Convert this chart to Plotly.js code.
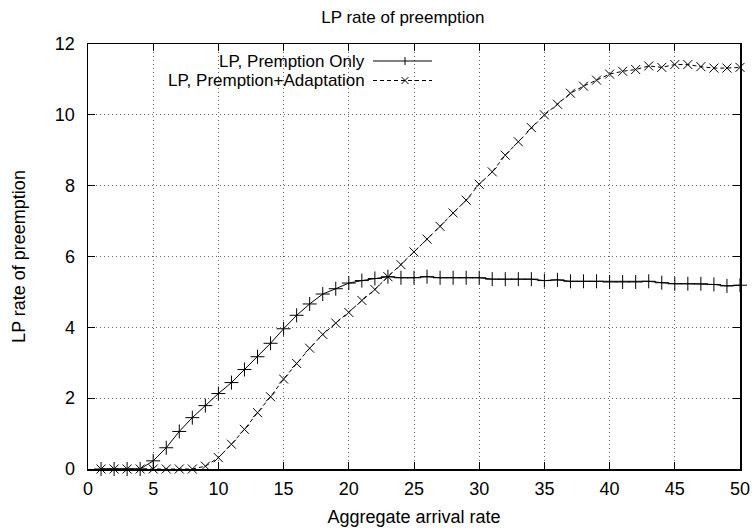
<!DOCTYPE html>
<html>
<head>
<meta charset="utf-8">
<script src="https://cdn.plot.ly/plotly-3.0.1.min.js"></script>
<style>html,body{margin:0;padding:0;background:#fff;}#chart{width:753px;height:529px;}</style>
</head>
<body>
<div id="chart"></div>
<script>
// ---- data ----
const arrivalRate = [1,2,3,4,5,6,7,8,9,10,11,12,13,14,15,16,17,18,19,20,21,22,23,24,25,26,27,28,29,30,31,32,33,34,35,36,37,38,39,40,41,42,43,44,45,46,47,48,49,50];
const preemptionOnly = [0,0,0,0,0.23,0.6,1.06,1.45,1.79,2.13,2.44,2.81,3.17,3.55,3.96,4.34,4.66,4.94,5.09,5.25,5.32,5.38,5.43,5.40,5.40,5.43,5.40,5.40,5.40,5.40,5.36,5.36,5.36,5.36,5.32,5.34,5.30,5.30,5.30,5.28,5.28,5.28,5.30,5.26,5.23,5.23,5.23,5.21,5.17,5.19];
const preemptionAdaptation = [0,0,0,0,0,0,0,0,0.08,0.32,0.70,1.12,1.59,2.04,2.54,2.98,3.41,3.80,4.12,4.42,4.76,5.07,5.43,5.77,6.13,6.49,6.85,7.23,7.59,8.04,8.39,8.86,9.24,9.64,10.0,10.30,10.61,10.81,10.98,11.15,11.23,11.28,11.38,11.34,11.42,11.42,11.36,11.32,11.32,11.34];
const seriesNames = ["LP, Premption Only", "LP, Premption+Adaptation"];
const xTicks = [0,5,10,15,20,25,30,35,40,45,50];
const yTicks = [0,2,4,6,8,10,12];
const chartTitle = "LP rate of preemption";
const xTitle = "Aggregate arrival rate";
const yTitle = "LP rate of preemption";

// ---- styling ----
const FONT = "Liberation Sans, Arial, Helvetica, sans-serif";
const W = 753, H = 529;
const M = {l: 88, r: 13, t: 44, b: 60};
const PW = W - M.l - M.r, PH = H - M.t - M.b;
const px = v => v / PW, py = v => v / PH;

const traces = [
  {x: arrivalRate, y: preemptionOnly, name: seriesNames[0], type: "scatter", mode: "lines+markers",
   line: {color: "#000", width: 1}, cliponaxis: false,
   marker: {symbol: "cross-thin-open", size: 10, color: "#000", line: {color: "#000", width: 1}}},
  {x: arrivalRate, y: preemptionAdaptation, name: seriesNames[1], type: "scatter", mode: "lines+markers",
   line: {color: "#000", width: 1, dash: "4px,3px"}, cliponaxis: false,
   marker: {symbol: "x-thin-open", size: 9, color: "#000", line: {color: "#000", width: 1}}}
];

// custom gnuplot-style legend (text on left, sample on right)
const legTextX = px(366 - M.l);
const legLine0 = px(373 - M.l), legLine1 = px(432 - M.l), legMark = px(405 - M.l);
const rowY = [1 - py(61 - M.t), 1 - py(80.5 - M.t)];
const arm = 4;
const shapes = [];
const annotations = [];
seriesNames.forEach((nm, i) => {
  annotations.push({xref: "paper", yref: "paper", x: legTextX, y: rowY[i], xanchor: "right", yanchor: "middle",
    text: nm, showarrow: false, borderpad: 0, font: {family: FONT, size: 17, color: "#000"}});
  shapes.push({type: "line", xref: "paper", yref: "paper", x0: legLine0, x1: legLine1, y0: rowY[i], y1: rowY[i],
    line: {color: "#000", width: 1, dash: i === 0 ? "solid" : "4px,3px"}});
  if (i === 0) {
    shapes.push({type: "line", xref: "paper", yref: "paper", x0: legMark, x1: legMark, y0: rowY[i] - py(arm), y1: rowY[i] + py(arm), line: {color: "#000", width: 1}});
  } else {
    shapes.push({type: "line", xref: "paper", yref: "paper", x0: legMark - px(3.5), x1: legMark + px(3.5), y0: rowY[i] - py(3.5), y1: rowY[i] + py(3.5), line: {color: "#000", width: 1}});
    shapes.push({type: "line", xref: "paper", yref: "paper", x0: legMark - px(3.5), x1: legMark + px(3.5), y0: rowY[i] + py(3.5), y1: rowY[i] - py(3.5), line: {color: "#000", width: 1}});
  }
});

const axisCommon = {
  showline: true, linecolor: "#000", linewidth: 1.5, mirror: "ticks",
  ticks: "inside", ticklen: 7, tickwidth: 1, tickcolor: "#000",
  showgrid: true, gridcolor: "#666", gridwidth: 1, griddash: "1px,3px",
  zeroline: false, tickfont: {family: FONT, size: 18, color: "#000"}
};

const layout = {
  width: W, height: H, margin: M,
  paper_bgcolor: "#fff", plot_bgcolor: "#fff",
  showlegend: false,
  title: {text: chartTitle, font: {family: FONT, size: 17, color: "#000"}, x: 0.535, xanchor: "center", yref: "container", y: 1 - 17 / H, yanchor: "middle"},
  xaxis: Object.assign({}, axisCommon, {range: [0, 50], tickvals: xTicks, ticktext: xTicks.map(String), ticklabelstandoff: 3,
    title: {text: xTitle, font: {family: FONT, size: 18, color: "#000"}, standoff: 12}}),
  yaxis: Object.assign({}, axisCommon, {range: [0, 12], tickvals: yTicks, ticktext: yTicks.map(String), ticklabelstandoff: 8,
    title: {text: yTitle, font: {family: FONT, size: 18, color: "#000"}, standoff: 24}}),
  shapes: shapes, annotations: annotations
};

Plotly.newPlot("chart", traces, layout, {staticPlot: true, displayModeBar: false});
</script>
</body>
</html>
